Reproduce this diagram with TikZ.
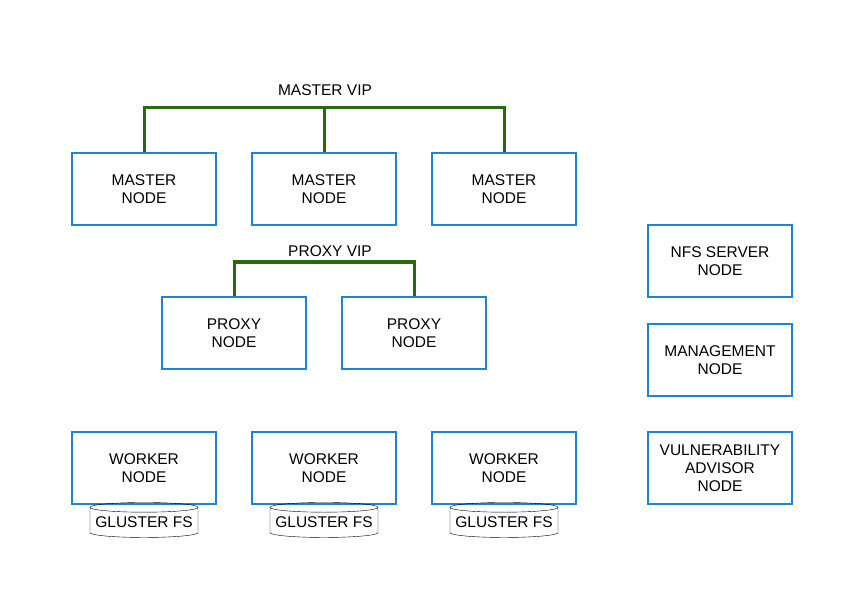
\documentclass[tikz,border=0pt]{standalone}
\usepackage{fontspec}
\setmainfont{Liberation Sans}
\usetikzlibrary{shapes.geometric}
\definecolor{boxblue}{RGB}{28,132,216}
\definecolor{vipgreen}{RGB}{45,104,14}
\tikzset{
  nodebox/.style={draw=boxblue,line width=2pt,minimum width=144pt,minimum height=72pt,align=center,font=\fontsize{15.5}{18}\selectfont},
  disk/.style={draw,cylinder,shape border rotate=90,aspect=0.1,minimum width=108pt,minimum height=35pt,inner sep=0pt,font=\fontsize{15.5}{18}\selectfont},
  vip/.style={draw=vipgreen,line width=3pt},
  viplabel/.style={font=\fontsize{15.5}{18}\selectfont}
}
\begin{document}
\begin{tikzpicture}[x=1pt,y=-1pt]
      \useasboundingbox[fill=white] (0,0) rectangle (864,612);
      % masters
      \node[nodebox] (m1) at (144,189) {MASTER\\NODE};
      \node[nodebox] (m2) at (324,189) {MASTER\\NODE};
      \node[nodebox] (m3) at (504,189) {MASTER\\NODE};
      \node[viplabel] (mvip) at (325,90) {MASTER VIP};
      \coordinate (mbusl) at (144,108);
      \coordinate (mbusr) at (504,108);
      \coordinate (mbusc) at (324,108);
      \draw[vip] (m1.north) -- (mbusl) -- (mbusr) -- (m3.north);
      \draw[vip] (mbusc) -- (m2.north);
      % proxies
      \node[nodebox] (p1) at (234,333) {PROXY\\NODE};
      \node[nodebox] (p2) at (414,333) {PROXY\\NODE};
      \node[viplabel] (pvip) at (330,251) {PROXY VIP};
      \coordinate (pbusl) at (234,262);
      \coordinate (pbusr) at (414,262);
      \draw[vip] (p1.north) -- (pbusl) -- (pbusr) -- (p2.north);
      % workers
      \node[nodebox] (w1) at (144,468) {WORKER\\NODE};
      \node[nodebox] (w2) at (324,468) {WORKER\\NODE};
      \node[nodebox] (w3) at (504,468) {WORKER\\NODE};
      \node[disk] (g1) at (144,522.5) {GLUSTER FS};
      \node[disk] (g2) at (324,522.5) {GLUSTER FS};
      \node[disk] (g3) at (504,522.5) {GLUSTER FS};
      % others
      \node[nodebox] (nfs) at (720,261) {NFS SERVER\\NODE};
      \node[nodebox] (mgmt) at (720,360) {MANAGEMENT\\NODE};
      \node[nodebox] (va) at (720,468) {VULNERABILITY\\ADVISOR\\NODE};
\end{tikzpicture}
\end{document}
